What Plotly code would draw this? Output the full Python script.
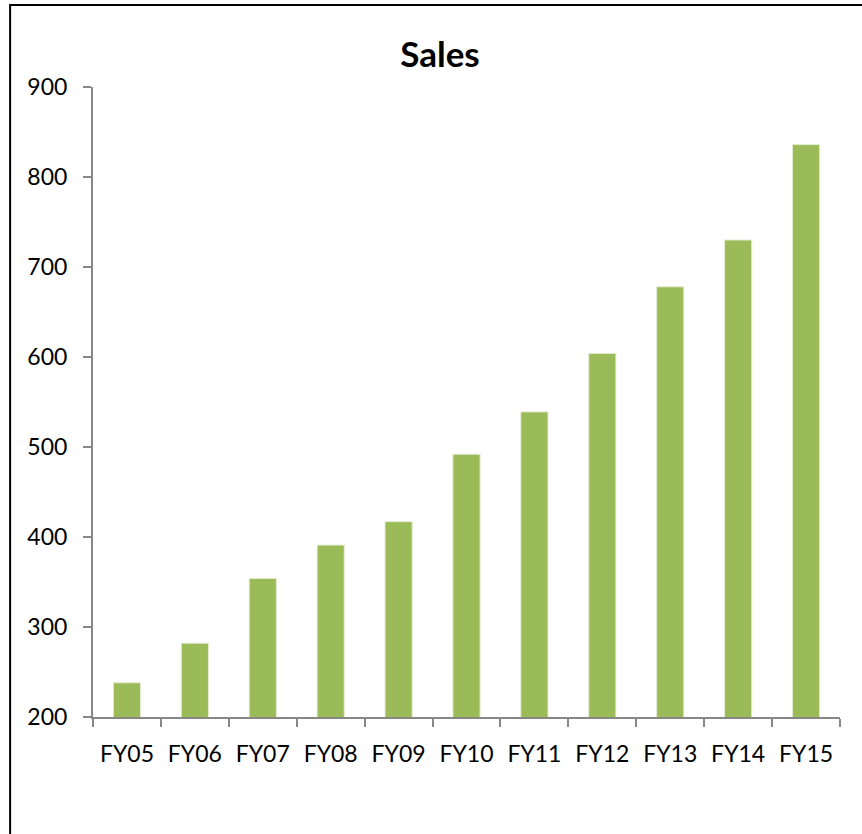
import plotly.graph_objects as go

categories = ["FY05", "FY06", "FY07", "FY08", "FY09", "FY10", "FY11", "FY12", "FY13", "FY14", "FY15"]
sales = [238, 282, 354, 391, 417, 492, 539, 604, 678, 730, 836]
y_ticks = [200, 300, 400, 500, 600, 700, 800, 900]

W, H = 862, 834
L, R = 92.5, 840.5
T, B = 87.3, 716.7
pw, ph = R - L, B - T

fig = go.Figure()
fig.add_trace(go.Bar(
    x=categories, y=sales,
    marker=dict(color="#9BBB59", line=dict(color="#E4ECD3", width=1)),
    width=0.4,
))

axis_color = "#878787"
font_family = "Lato, 'Open Sans', sans-serif"

fig.update_layout(
    width=W, height=H,
    margin=dict(l=L, r=W - R, t=T, b=H - B, pad=0),
    paper_bgcolor="white", plot_bgcolor="white",
    showlegend=False,
    title=dict(text="<b>Sales</b>", x=440 / W, xanchor="center", xref="container",
               y=1 - 55 / H, yanchor="middle", yref="container",
               font=dict(family=font_family, size=35, color="black")),
    xaxis=dict(
        type="category", showline=True, linecolor=axis_color, linewidth=2,
        ticks="outside", tickson="boundaries", ticklen=8, tickwidth=2, tickcolor=axis_color,
        showgrid=False, zeroline=False,
        tickfont=dict(family=font_family, size=23, color="black"),
        ticklabelstandoff=15,
    ),
    yaxis=dict(
        range=[200, 900], tickvals=y_ticks, ticktext=[str(v) for v in y_ticks],
        showline=True, linecolor=axis_color, linewidth=2,
        ticks="outside", ticklen=8, tickwidth=2, tickcolor=axis_color,
        showgrid=False, zeroline=False,
        tickfont=dict(family=font_family, size=23, color="black"),
        ticklabelstandoff=11,
    ),
)

# chart-area border (extends past the right and bottom edge of the picture)
fig.add_shape(type="rect", xref="paper", yref="paper",
              x0=(9.5 - L) / pw, x1=(W + 20 - L) / pw,
              y0=(B - (H + 20)) / ph, y1=1 + (T - 5.5) / ph,
              line=dict(color="black", width=2), fillcolor="rgba(0,0,0,0)", layer="below")

fig.write_html("out.html")
